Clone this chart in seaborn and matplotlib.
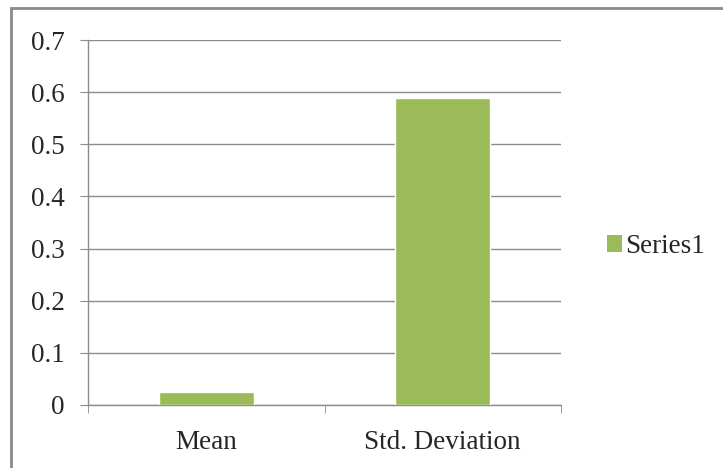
import pandas as pd
import seaborn as sns
import matplotlib.pyplot as plt
from matplotlib.patches import Rectangle, Patch

categories = ["Mean", "Std. Deviation"]
values = [0.024, 0.589]
series_name = "Series1"
bar_color = "#9BBB59"

df = pd.DataFrame({"stat": categories, "value": values, "series": series_name})

sns.set_style("white")
plt.rcParams['font.family'] = ['Liberation Serif', 'DejaVu Serif']

fig = plt.figure(figsize=(7.23, 4.68), dpi=100)
ax = fig.add_axes([88 / 723, 1 - 405 / 468, (561 - 88) / 723, (405 - 40) / 468])

sns.barplot(data=df, x="stat", y="value", hue="series", palette=[bar_color],
            width=0.4, saturation=1, ax=ax, zorder=3, legend=False)

ax.set_ylim(0, 0.7)
ax.set_xlim(-0.5, 1.5)
ax.set_yticks([0, 0.1, 0.2, 0.3, 0.4, 0.5, 0.6, 0.7])
ax.set_yticklabels(["0", "0.1", "0.2", "0.3", "0.4", "0.5", "0.6", "0.7"])
ax.yaxis.grid(True, color="#8c8c8c", linewidth=1)
ax.set_axisbelow(True)
ax.set_xlabel("")
ax.set_ylabel("")

for s in ["top", "right"]:
    ax.spines[s].set_visible(False)
for s in ["left", "bottom"]:
    ax.spines[s].set_color("#8c8c8c")
    ax.spines[s].set_linewidth(1)

ax.tick_params(axis="y", direction="out", length=6, color="#8c8c8c", labelsize=19.5, pad=11, left=True)
ax.set_xticks([-0.5, 0.5, 1.5], minor=True)
ax.tick_params(axis="x", which="minor", direction="out", length=6, color="#8c8c8c", bottom=True)
ax.tick_params(axis="x", which="major", length=0, labelsize=19.5, pad=18)

ax.legend(handles=[Patch(facecolor=bar_color, edgecolor="none")], labels=[series_name],
          loc="center left", bbox_to_anchor=(1.075, 0.435), frameon=False, fontsize=19.5,
          handlelength=0.55, handleheight=0.6, handletextpad=0.1, borderaxespad=0)

fig.patches.append(Rectangle((11 / 723, -0.05), 1.1, 1 - 8 / 468 + 0.05, transform=fig.transFigure,
                             fill=False, edgecolor="#8a8a8a", linewidth=2))

fig.savefig("out.png", dpi=100)
